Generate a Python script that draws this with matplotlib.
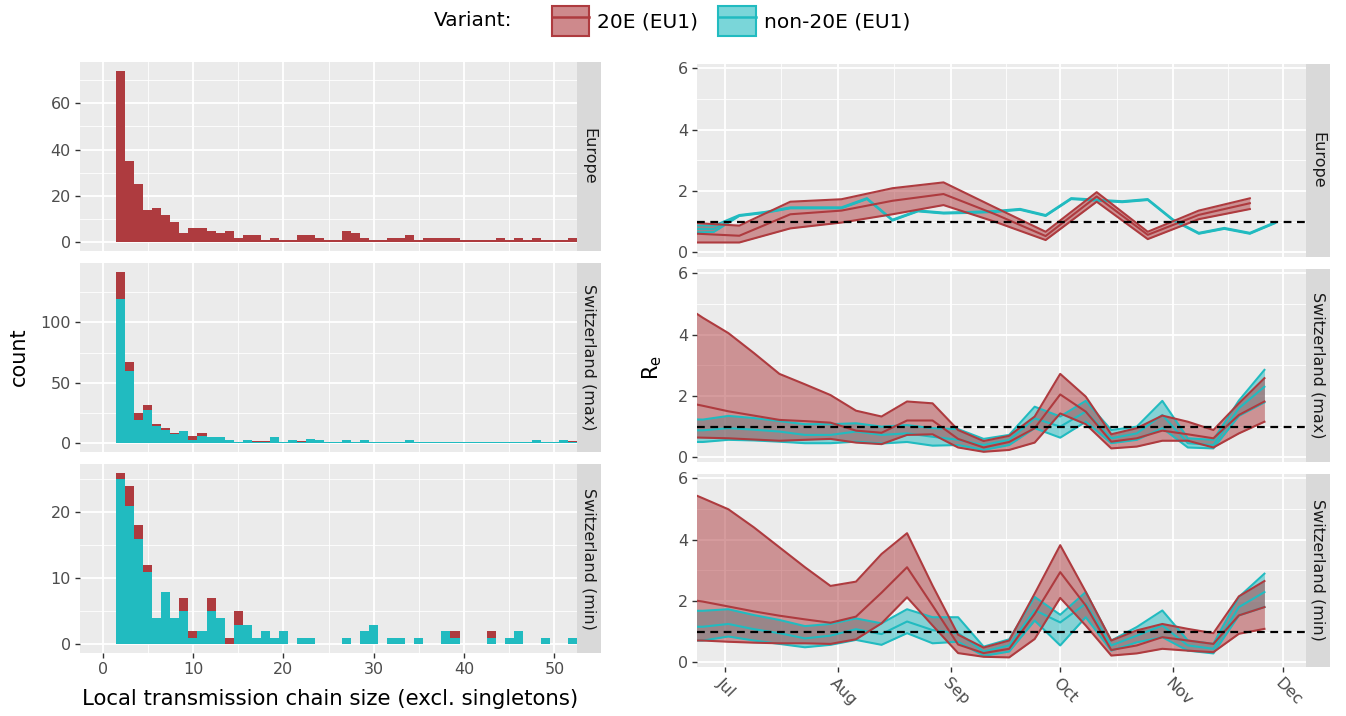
"""Chain-size histograms and Re estimates for 20E (EU1) vs non-20E variants."""

import matplotlib.pyplot as plt
import numpy as np
import pandas as pd
from matplotlib.colors import to_rgba
from matplotlib.legend_handler import HandlerTuple
from matplotlib.lines import Line2D
from matplotlib.patches import Patch

plt.rcParams["font.family"] = ["DejaVu Sans"]

RED = "#AE3B3F"
CYAN = "#21BBC0"
PANEL_BG = "#EBEBEB"
STRIP_BG = "#D9D9D9"

# ---------------- histogram data (chain sizes 2..52) ----------------
chain_size = np.arange(2, 53)
hist_panels = ["Europe", "Switzerland (max)", "Switzerland (min)"]

eu_20e = [74, 35, 25, 14, 15, 12, 9, 4, 6, 6,
          5, 4, 5, 2, 3, 3, 1, 2, 1, 1,
          3, 3, 2, 1, 1, 5, 4, 2, 1, 1,
          2, 2, 3, 1, 2, 2, 2, 2, 1, 1,
          1, 1, 2, 1, 2, 1, 2, 1, 1, 1,
          2]

chmax_other = [119, 60, 19, 28, 14, 11, 8, 10, 3, 6,
               5, 5, 3, 1, 3, 1, 1, 5, 1, 3,
               1, 4, 3, 1, 1, 3, 1, 3, 1, 1,
               1, 1, 3, 1, 1, 1, 1, 1, 1, 1,
               1, 1, 1, 1, 1, 1, 3, 1, 1, 3,
               1]
chmax_20e = [23, 7, 6, 4, 2, 2, 1, 0, 3, 3,
             0, 0, 0, 0, 0, 1, 1, 0, 0, 0,
             1, 0, 0, 0, 0, 0, 0, 0, 0, 0,
             0, 0, 0, 0, 0, 0, 0, 0, 0, 0,
             0, 0, 0, 0, 0, 0, 0, 0, 0, 0,
             1]

chmin_other = [25, 21, 16, 11, 4, 8, 4, 5, 1, 2,
               5, 4, 0, 3, 3, 1, 2, 1, 2, 0,
               1, 1, 0, 0, 0, 1, 0, 2, 3, 0,
               1, 1, 0, 1, 0, 0, 2, 1, 0, 0,
               0, 1, 0, 1, 2, 0, 0, 1, 0, 0,
               1]
chmin_20e = [1, 3, 2, 1, 0, 0, 0, 2, 1, 0,
             2, 0, 1, 2, 0, 0, 0, 0, 0, 0,
             0, 0, 0, 0, 0, 0, 0, 0, 0, 0,
             0, 0, 0, 0, 0, 0, 0, 1, 0, 0,
             0, 1, 0, 0, 0, 0, 0, 0, 0, 0,
             0]

hist_yticks = [[0, 20, 40, 60], [0, 50, 100], [0, 10, 20]]

# ---------------- Re data ----------------
eu_20e_dates = pd.date_range("2020-06-21", "2020-11-22", freq="14D")
eu_20e_lo = [0.32, 0.32, 0.78, 0.97, 1.24, 1.54, 1.00, 0.40, 1.65, 0.43, 1.08, 1.41]
eu_20e_mid = [0.62, 0.54, 1.24, 1.36, 1.68, 1.90, 1.25, 0.53, 1.82, 0.57, 1.22, 1.60]
eu_20e_hi = [0.97, 0.87, 1.65, 1.73, 2.09, 2.28, 1.47, 0.67, 1.96, 0.67, 1.36, 1.76]

eu_other_dates = pd.date_range("2020-06-21", "2020-11-29", freq="7D")
eu_other_mid = [0.76, 0.76, 1.20, 1.30, 1.45, 1.45, 1.45, 1.75, 1.05, 1.35, 1.28, 1.30,
                1.33, 1.40, 1.20, 1.75, 1.70, 1.65, 1.72, 1.05, 0.62, 0.78, 0.62, 0.97]
eu_other_lo = [0.65, 0.66, 1.18, 1.28, 1.43, 1.43, 1.43, 1.73, 1.03, 1.33, 1.26, 1.28,
               1.31, 1.38, 1.18, 1.73, 1.68, 1.63, 1.70, 1.03, 0.60, 0.76, 0.60, 0.95]
eu_other_hi = [0.88, 0.87, 1.22, 1.32, 1.47, 1.47, 1.47, 1.77, 1.07, 1.37, 1.30, 1.32,
               1.35, 1.42, 1.22, 1.77, 1.72, 1.67, 1.74, 1.07, 0.64, 0.80, 0.64, 0.99]

ch_dates = pd.date_range("2020-06-18", "2020-11-26", freq="7D")

chmax_20e_lo = [0.66, 0.64, 0.62, 0.58, 0.54, 0.57, 0.60, 0.48, 0.43, 0.73, 0.75, 0.32,
                0.18, 0.24, 0.48, 1.43, 1.08, 0.29, 0.35, 0.54, 0.54, 0.32, 0.78, 1.16]
chmax_20e_mid = [1.85, 1.68, 1.50, 1.36, 1.22, 1.18, 1.13, 0.87, 0.80, 1.20, 1.20, 0.60,
                 0.32, 0.50, 0.95, 2.05, 1.49, 0.51, 0.62, 0.87, 0.75, 0.62, 1.38, 1.82]
chmax_20e_hi = [5.10, 4.55, 4.05, 3.40, 2.72, 2.38, 2.03, 1.52, 1.33, 1.82, 1.76, 0.89,
                0.53, 0.70, 1.33, 2.72, 1.98, 0.75, 0.95, 1.36, 1.16, 0.89, 1.76, 2.58]
chmax_other_lo = [0.50, 0.50, 0.57, 0.55, 0.51, 0.46, 0.46, 0.51, 0.45, 0.50, 0.38, 0.40,
                  0.24, 0.40, 0.95, 0.64, 1.16, 0.46, 0.57, 0.95, 0.32, 0.29, 1.35, 1.79]
chmax_other_mid = [0.88, 0.88, 0.95, 0.90, 0.84, 0.73, 0.73, 0.84, 0.73, 0.78, 0.67, 0.57,
                   0.40, 0.57, 1.27, 1.00, 1.49, 0.62, 0.78, 1.38, 0.46, 0.40, 1.60, 2.30]
chmax_other_hi = [1.25, 1.23, 1.35, 1.28, 1.18, 1.08, 1.08, 1.11, 1.00, 1.05, 0.95, 0.92,
                  0.60, 0.73, 1.65, 1.33, 1.84, 0.89, 1.00, 1.84, 0.62, 0.57, 1.85, 2.85]

chmin_20e_lo = [0.72, 0.71, 0.67, 0.64, 0.62, 0.62, 0.60, 0.75, 1.27, 2.12, 1.20, 0.30,
                0.18, 0.16, 0.76, 2.10, 1.20, 0.22, 0.29, 0.44, 0.38, 0.33, 0.93, 1.09]
chmin_20e_mid = [2.10, 1.98, 1.82, 1.66, 1.52, 1.40, 1.29, 1.49, 2.27, 3.10, 1.85, 0.58,
                 0.30, 0.44, 1.58, 2.94, 1.85, 0.40, 0.55, 0.82, 0.71, 0.60, 1.53, 1.80]
chmin_20e_hi = [5.70, 5.35, 4.99, 4.40, 3.75, 3.10, 2.49, 2.63, 3.53, 4.21, 2.50, 0.90,
                0.48, 0.71, 2.24, 3.82, 2.30, 0.71, 1.04, 1.25, 1.09, 0.95, 2.15, 2.65]
chmin_other_lo = [0.71, 0.71, 0.84, 0.71, 0.60, 0.49, 0.57, 0.73, 0.57, 0.95, 0.62, 0.67,
                  0.21, 0.35, 1.36, 0.55, 1.47, 0.38, 0.65, 0.82, 0.38, 0.29, 1.53, 1.80]
chmin_other_mid = [1.16, 1.16, 1.25, 1.08, 0.95, 0.78, 0.87, 1.08, 0.92, 1.33, 1.05, 0.95,
                   0.35, 0.55, 1.70, 1.30, 1.91, 0.55, 0.87, 1.20, 0.55, 0.44, 1.80, 2.29]
chmin_other_hi = [1.68, 1.68, 1.73, 1.54, 1.38, 1.18, 1.25, 1.43, 1.27, 1.73, 1.47, 1.47,
                  0.51, 0.75, 2.13, 1.55, 2.29, 0.71, 1.15, 1.69, 0.71, 0.60, 2.13, 2.89]

month_labels = ["Jul", "Aug", "Sep", "Oct", "Nov", "Dec"]

# ---------------- layout (pixel boxes) ----------------
W, H = 1346, 716
fig = plt.figure(figsize=(W / 100, H / 100), dpi=100)


def px_axes(x0, y0, x1, y1):
    return fig.add_axes([x0 / W, 1 - y1 / H, (x1 - x0) / W, (y1 - y0) / H])


def style_panel(ax):
    ax.set_facecolor(PANEL_BG)
    for s in ax.spines.values():
        s.set_visible(False)
    ax.grid(True, which="major", color="white", linewidth=1.3)
    ax.grid(True, which="minor", color="white", linewidth=0.6)
    ax.set_axisbelow(True)
    ax.tick_params(which="major", length=3.5, width=1.0, color="#333333",
                   labelcolor="#4D4D4D", labelsize=11.5, pad=3)
    ax.tick_params(which="minor", length=0)


def add_strip(x0, y0, x1, y1, label):
    sax = px_axes(x0, y0, x1, y1)
    sax.set_facecolor(STRIP_BG)
    sax.set_xticks([])
    sax.set_yticks([])
    for s in sax.spines.values():
        s.set_visible(False)
    sax.text(0.5, 0.5, label, rotation=-90, ha="center", va="center",
             fontsize=11.5, color="#1A1A1A", transform=sax.transAxes)


# ---------------- left: histograms ----------------
hist_other = [None, chmax_other, chmin_other]
hist_20e = [eu_20e, chmax_20e, chmin_20e]
left_tops = [62, 263, 464]
left_h = 189

for i, top in enumerate(left_tops):
    ax = px_axes(80, top, 577, top + left_h)
    style_panel(ax)
    red = np.array(hist_20e[i])
    if hist_other[i] is not None:
        other = np.array(hist_other[i])
        ax.bar(chain_size, other, width=1.0, color=CYAN, linewidth=0)
    else:
        other = np.zeros_like(red)
    ax.bar(chain_size, red, width=1.0, bottom=other, color=RED, linewidth=0)
    total = (red + other).max()
    ax.set_ylim(-0.05 * total, 1.05 * total)
    ax.set_xlim(-2.5, 52.5)
    yt = hist_yticks[i]
    ax.set_yticks(yt)
    ax.set_yticks([t + (yt[1] - yt[0]) / 2 for t in yt], minor=True)
    ax.set_xticks([0, 10, 20, 30, 40, 50])
    ax.set_xticks([5, 15, 25, 35, 45], minor=True)
    if i < 2:
        ax.tick_params(axis="x", which="major", length=0, labelbottom=False)
    add_strip(577, top, 601, top + left_h, hist_panels[i])

fig.text(19 / W, 1 - 357 / H, "count", rotation=90, ha="center", va="center",
         fontsize=15, color="black")
fig.text(330 / W, 1 - 699 / H, "Local transmission chain size (excl. singletons)",
         ha="center", va="center", fontsize=15.3, color="black")

# ---------------- right: Re ribbons ----------------
re_panels = [
    (eu_other_dates, eu_other_lo, eu_other_mid, eu_other_hi,
     eu_20e_dates, eu_20e_lo, eu_20e_mid, eu_20e_hi),
    (ch_dates, chmax_other_lo, chmax_other_mid, chmax_other_hi,
     ch_dates, chmax_20e_lo, chmax_20e_mid, chmax_20e_hi),
    (ch_dates, chmin_other_lo, chmin_other_mid, chmin_other_hi,
     ch_dates, chmin_20e_lo, chmin_20e_mid, chmin_20e_hi),
]
right_tops = [64, 269, 474]
right_h = 192.6
x_start = pd.Timestamp("2020-07-01") - pd.Timedelta(days=7.6)
x_end = pd.Timestamp("2020-07-01") + pd.Timedelta(days=159.4)
month_starts = pd.to_datetime(["2020-07-01", "2020-08-01", "2020-09-01",
                               "2020-10-01", "2020-11-01", "2020-12-01"])
month_mids = month_starts[:-1] + (month_starts[1:] - month_starts[:-1]) / 2


def draw_variant(ax, dates, lo, mid, hi, color, lw=1.5):
    ax.fill_between(dates, lo, hi, color=color, alpha=0.5, linewidth=0)
    for vals in (lo, mid, hi):
        ax.plot(dates, vals, color=color, linewidth=lw)


for i, top in enumerate(right_tops):
    ax = px_axes(697, top, 1306, top + right_h)
    style_panel(ax)
    d_o, lo_o, mid_o, hi_o, d_r, lo_r, mid_r, hi_r = re_panels[i]
    draw_variant(ax, d_o, lo_o, mid_o, hi_o, CYAN, lw=1.3 if i == 0 else 1.5)
    draw_variant(ax, d_r, lo_r, mid_r, hi_r, RED)
    ax.axhline(1, color="black", linewidth=1.6, linestyle=(0, (3.5, 2.5)))
    ax.set_xlim(x_start, x_end)
    ax.set_ylim(-0.14, 6.14)
    ax.set_yticks([0, 2, 4, 6])
    ax.set_yticks([1, 3, 5], minor=True)
    ax.set_xticks(month_starts)
    ax.set_xticks(month_mids, minor=True)
    if i < 2:
        ax.tick_params(axis="x", which="major", length=0, labelbottom=False)
    else:
        ax.set_xticklabels(month_labels, rotation=-45, ha="left", va="top",
                           rotation_mode="anchor")
    add_strip(1306, top, 1330, top + right_h, hist_panels[i])

fig.text(652 / W, 1 - 368 / H, "R$_{\\mathrm{e}}$", rotation=90, ha="center",
         va="center", fontsize=15, color="black")

# ---------------- legend ----------------
fig.text(512 / W, 1 - 21 / H, "Variant:", ha="right", va="center", fontsize=14.5)
handles = []
for c in (RED, CYAN):
    box = Patch(facecolor=to_rgba(c, 0.6), edgecolor=c, linewidth=1.5)
    line = Line2D([], [], color=c, linewidth=1.8)
    handles.append((box, line))
fig.legend(handles, ["20E (EU1)", "non-20E (EU1)"], ncol=2, frameon=False,
           loc="center left", bbox_to_anchor=(552 / W, 1 - 21 / H),
           handler_map={tuple: HandlerTuple(ndivide=1)},
           handlelength=1.85, handleheight=1.85, handletextpad=0.4,
           columnspacing=1.0, fontsize=14.5, borderaxespad=0, borderpad=0)

fig.savefig("out.png", dpi=100)
